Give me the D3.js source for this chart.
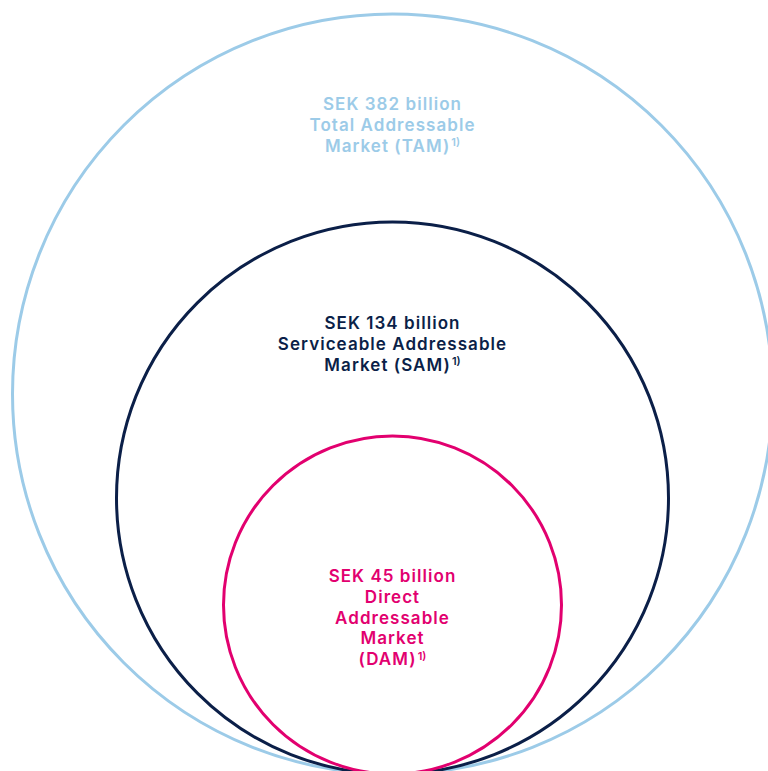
<!DOCTYPE html>
<html>
<head>
<meta charset="utf-8">
<script src="https://cdn.jsdelivr.net/npm/d3@7"></script>
<style>
  html, body { margin: 0; padding: 0; background: #fff; }
  svg { display: block; }
  text { font-family: Inter, Roboto, "Noto Sans", sans-serif; font-weight: 600; }
</style>
</head>
<body>
<svg id="chart" width="768" height="771"></svg>
<script>
// Market sizes, SEK billion
const markets = ["TAM", "SAM", "DAM"];
const values = [382, 134, 45];
const amountLabels = ["SEK 382 billion", "SEK 134 billion", "SEK 45 billion"];
const nameLines = [
  ["Total Addressable", "Market (TAM)"],
  ["Serviceable Addressable", "Market (SAM)"],
  ["Direct", "Addressable", "Market", "(DAM)"]
];
const footnote = "1)";
const colors = ["#9ccbe8", "#0b1f48", "#e2006f"];

const svg = d3.select("#chart");
const cx = 392.5;      // shared horizontal centre
const baseY = 774;     // circles share a common bottom tangent

// value -> radius
const r = d3.scaleLinear().domain([45, 134, 382]).range([169, 276, 380]);

svg.append("g")
  .selectAll("circle")
  .data(values)
  .join("circle")
  .attr("cx", cx)
  .attr("cy", d => baseY - r(d))
  .attr("r", d => r(d))
  .attr("fill", "none")
  .attr("stroke", (d, i) => colors[i])
  .attr("stroke-width", 3);

// label blocks: first baseline measured from each circle's top
const firstBaselineOffset = [96, 107, 146];
const lineH = 20.8;
const fontSize = 17;

const labels = svg.append("g");

values.forEach((v, i) => {
  const top = baseY - 2 * r(v);
  const lines = [amountLabels[i], ...nameLines[i]];
  lines.forEach((ln, j) => {
    const y = top + firstBaselineOffset[i] + j * lineH;
    const t = labels.append("text")
      .attr("fill", colors[i])
      .attr("font-size", fontSize)
      .attr("letter-spacing", 1.05)
      .attr("y", y)
      .text(ln);
    const w = t.node().getComputedTextLength();
    if (j === lines.length - 1) {
      // footnote marker after the last line; centre line + marker together
      const s = labels.append("text")
        .attr("fill", colors[i])
        .attr("font-size", 11)
        .attr("y", y - 5.5)
        .text(footnote);
      const sw = s.node().getComputedTextLength();
      const gap = 1;
      const x0 = cx - (w + gap + sw) / 2;
      t.attr("x", x0);
      s.attr("x", x0 + w + gap);
    } else {
      t.attr("x", cx - w / 2);
    }
  });
});
</script>
</body>
</html>
